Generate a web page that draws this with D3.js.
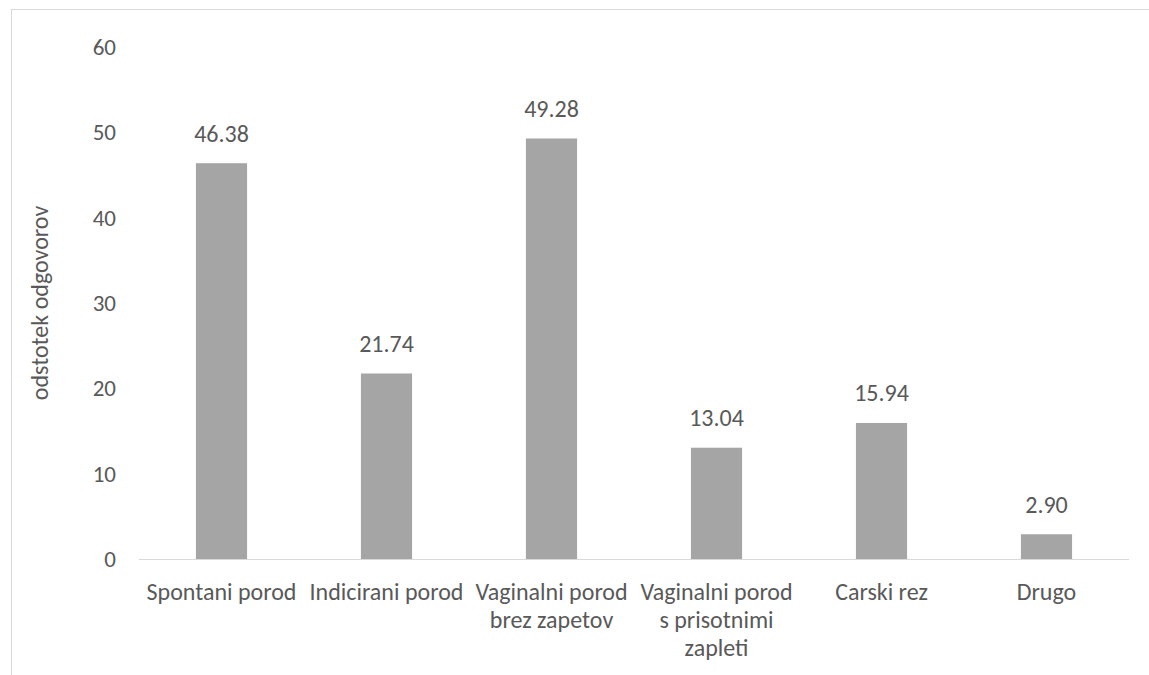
<!DOCTYPE html>
<html><head><meta charset="utf-8">
<script src="https://cdn.jsdelivr.net/npm/d3@7"></script>
<style>body{margin:0;background:#fff}svg{display:block;font-family:Carlito,Calibri,Lato,sans-serif}</style>
</head><body>
<svg id="c" width="1149" height="675"></svg>
<script>
const categories = [["Spontani porod"],["Indicirani porod"],["Vaginalni porod","brez zapetov"],["Vaginalni porod","s prisotnimi","zapleti"],["Carski rez"],["Drugo"]];
const values = [46.38, 21.74, 49.28, 13.04, 15.94, 2.90];
const yTicks = [0,10,20,30,40,50,60];
const yTitle = "odstotek odgovorov";

const svg = d3.select("#c");
svg.append("rect").attr("x",11.5).attr("y",9.5).attr("width",1200).attr("height",700).attr("fill","#fff").attr("stroke","#d9d9d9");
const m={l:139,r:1129,t:47,b:559};
const x=d3.scaleBand().domain(d3.range(categories.length)).range([m.l,m.r]).paddingInner(0.69).paddingOuter(0.345);
const y=d3.scaleLinear().domain([0,60]).range([m.b,m.t]);
const txt="#595959";
const fs=24;
svg.append("g").selectAll("text").data(yTicks).join("text")
 .attr("x",116).attr("y",d=>y(d)).attr("dy","0.35em").attr("text-anchor","end")
 .attr("fill",txt).attr("font-size",23).text(d=>d);
svg.append("g").selectAll("rect").data(values).join("rect")
 .attr("x",(d,i)=>x(i)).attr("width",x.bandwidth()).attr("y",d=>y(d)).attr("height",d=>m.b-y(d)).attr("fill","#a5a5a5");
svg.append("line").attr("x1",m.l).attr("x2",m.r).attr("y1",m.b+0.5).attr("y2",m.b+0.5).attr("stroke","#d9d9d9").attr("stroke-width",1.2);
svg.append("g").selectAll("text").data(values).join("text")
 .attr("x",(d,i)=>x(i)+x.bandwidth()/2).attr("y",d=>y(d)-30).attr("dy","0.35em").attr("text-anchor","middle")
 .attr("fill",txt).attr("font-size",fs).text(d=>d.toFixed(2));
const cg=svg.append("g").selectAll("text").data(categories).join("text")
 .attr("x",(d,i)=>x(i)+x.bandwidth()/2).attr("y",592).attr("text-anchor","middle")
 .attr("fill",txt).attr("font-size",fs);
cg.selectAll("tspan").data(d=>d).join("tspan").attr("x",function(){return this.parentNode.getAttribute("x");})
 .attr("dy",(d,j)=>j===0?"0.35em":"28").text(d=>d);
svg.append("text").attr("transform","translate(40,303) rotate(-90)").attr("text-anchor","middle").attr("dy","0.35em")
 .attr("fill",txt).attr("font-size",fs).text(yTitle);
</script>
</body></html>
